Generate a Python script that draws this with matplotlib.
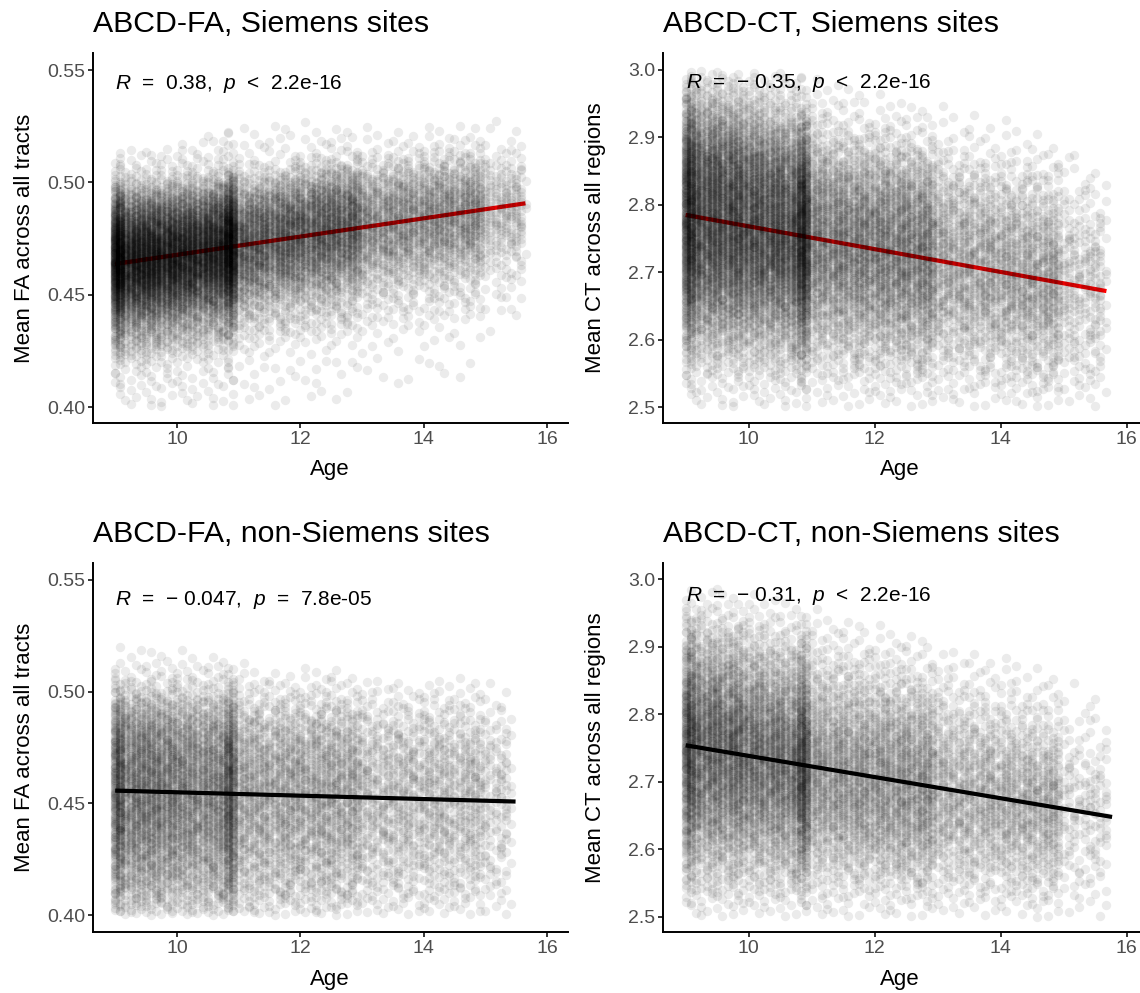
import numpy as np
import matplotlib
matplotlib.use('Agg')
import matplotlib.pyplot as plt

plt.rcParams['font.family'] = ['Liberation Sans', 'DejaVu Sans']
plt.rcParams['mathtext.fontset'] = 'custom'
plt.rcParams['mathtext.rm'] = 'Liberation Sans'
plt.rcParams['mathtext.it'] = 'Liberation Sans:italic'

# Les nuages de points sont reconstruits à partir de quantiles,
# par tranche d'âge d'un an (quantiles donnés au centre de chaque tranche)
age_bins = [9, 10, 11, 12, 13, 14, 15, 16]
quant_probs = [0, 0.02, 0.10, 0.25, 0.50, 0.75, 0.90, 0.98, 1.0]
# tranches plus denses (colonne de gauche à 9 ans, bande vers 11 ans)
extra_ranges = [(9.0, 9.17), (10.83, 11.0)]

# --- ABCD-FA, Siemens ---
fa_siem_counts = [2200, 2000, 1100, 1100, 650, 650, 220]
fa_siem_extra = [220, 220]
fa_siem_quant = [
    [0.400, 0.425, 0.442, 0.454, 0.465, 0.476, 0.486, 0.497, 0.515],
    [0.400, 0.428, 0.445, 0.457, 0.468, 0.479, 0.489, 0.500, 0.522],
    [0.400, 0.432, 0.450, 0.462, 0.474, 0.485, 0.494, 0.505, 0.530],
    [0.402, 0.435, 0.453, 0.466, 0.478, 0.489, 0.498, 0.508, 0.528],
    [0.410, 0.437, 0.456, 0.469, 0.481, 0.492, 0.501, 0.511, 0.525],
    [0.410, 0.440, 0.459, 0.472, 0.484, 0.495, 0.504, 0.514, 0.527],
    [0.440, 0.450, 0.465, 0.476, 0.487, 0.497, 0.505, 0.515, 0.535],
]
fa_siem_age_max = 15.68
fa_siem_fit_x = [9.0, 15.65]
fa_siem_fit_y = [0.4637, 0.4907]

# --- ABCD-CT, Siemens ---
ct_siem_counts = [2300, 2100, 1200, 1200, 700, 700, 240]
ct_siem_extra = [220, 220]
ct_siem_quant = [
    [2.50, 2.58, 2.65, 2.71, 2.78, 2.85, 2.90, 2.96, 3.00],
    [2.50, 2.57, 2.64, 2.70, 2.76, 2.83, 2.88, 2.94, 3.00],
    [2.50, 2.56, 2.62, 2.68, 2.74, 2.80, 2.85, 2.91, 2.99],
    [2.50, 2.55, 2.61, 2.67, 2.73, 2.79, 2.84, 2.89, 2.96],
    [2.50, 2.54, 2.60, 2.65, 2.71, 2.77, 2.82, 2.87, 2.95],
    [2.50, 2.53, 2.58, 2.64, 2.69, 2.75, 2.80, 2.86, 2.92],
    [2.50, 2.53, 2.57, 2.62, 2.68, 2.73, 2.78, 2.83, 2.87],
]
ct_siem_age_max = 15.70
ct_siem_fit_x = [9.0, 15.68]
ct_siem_fit_y = [2.785, 2.672]

# --- ABCD-FA, non-Siemens ---
fa_non_counts = [1350, 1150, 750, 750, 480, 480, 140]
fa_non_extra = [120, 160]
fa_non_quant = [
    [0.400, 0.404, 0.418, 0.435, 0.455, 0.474, 0.487, 0.499, 0.522],
    [0.400, 0.404, 0.417, 0.434, 0.454, 0.473, 0.487, 0.500, 0.520],
    [0.400, 0.404, 0.416, 0.433, 0.453, 0.471, 0.485, 0.498, 0.510],
    [0.400, 0.404, 0.416, 0.433, 0.453, 0.471, 0.485, 0.498, 0.513],
    [0.400, 0.405, 0.417, 0.433, 0.452, 0.470, 0.484, 0.497, 0.505],
    [0.400, 0.405, 0.417, 0.433, 0.452, 0.470, 0.484, 0.497, 0.508],
    [0.400, 0.405, 0.418, 0.433, 0.452, 0.468, 0.480, 0.495, 0.505],
]
fa_non_age_max = 15.45
fa_non_fit_x = [9.0, 15.49]
fa_non_fit_y = [0.4557, 0.4508]

# --- ABCD-CT, non-Siemens ---
ct_non_counts = [1600, 1400, 900, 900, 560, 560, 160]
ct_non_extra = [140, 160]
ct_non_quant = [
    [2.50, 2.55, 2.62, 2.68, 2.75, 2.81, 2.87, 2.93, 2.99],
    [2.50, 2.55, 2.61, 2.67, 2.73, 2.79, 2.85, 2.91, 2.98],
    [2.50, 2.54, 2.60, 2.65, 2.71, 2.77, 2.83, 2.89, 2.95],
    [2.50, 2.54, 2.59, 2.64, 2.70, 2.76, 2.81, 2.87, 2.93],
    [2.50, 2.53, 2.58, 2.63, 2.68, 2.74, 2.79, 2.85, 2.90],
    [2.50, 2.53, 2.57, 2.62, 2.67, 2.72, 2.77, 2.83, 2.88],
    [2.50, 2.52, 2.56, 2.61, 2.66, 2.70, 2.75, 2.80, 2.85],
]
ct_non_age_max = 15.75
ct_non_fit_x = [9.0, 15.77]
ct_non_fit_y = [2.754, 2.648]

titles = ["ABCD-FA, Siemens sites", "ABCD-CT, Siemens sites",
          "ABCD-FA, non-Siemens sites", "ABCD-CT, non-Siemens sites"]
stats = [r"$\it{R}$  =  0.38,  $\it{p}$  <  2.2e-16",
         r"$\it{R}$  =  − 0.35,  $\it{p}$  <  2.2e-16",
         r"$\it{R}$  =  − 0.047,  $\it{p}$  =  7.8e-05",
         r"$\it{R}$  =  − 0.31,  $\it{p}$  <  2.2e-16"]
fa_ticks = [0.40, 0.45, 0.50, 0.55]
ct_ticks = [2.5, 2.6, 2.7, 2.8, 2.9, 3.0]
age_ticks = [10, 12, 14, 16]

fine_probs = np.linspace(0, 1, 201)


def vdc(k, base):
    # suite de van der Corput (placement régulière, pas d'aléatoire)
    out = np.zeros(len(k))
    denom = 1.0
    k = k.copy()
    while np.any(k > 0):
        denom *= base
        out += (k % base) / denom
        k //= base
    return out


def smooth_row(row, width):
    # lisse la densité définie par les quantiles lus (évite les paliers),
    # puis la tronque aux min / max lus
    ygrid = np.linspace(row[0] - 4 * width, row[-1] + 4 * width, 800)
    cdf = np.interp(ygrid, row, quant_probs)
    dens = np.gradient(cdf, ygrid)
    step = ygrid[1] - ygrid[0]
    kx = np.arange(-4 * width, 4 * width + step, step)
    kern = np.exp(-0.5 * (kx / width) ** 2)
    dens = np.convolve(dens, kern / kern.sum(), mode='same')
    dens[(ygrid < row[0]) | (ygrid > row[-1])] = 0
    cdf = np.cumsum(dens)
    cdf = cdf / cdf[-1]
    keep = np.concatenate([[True], np.diff(cdf) > 0])
    out = np.interp(fine_probs, cdf[keep], ygrid[keep])
    return np.clip(out, row[0], row[-1])


def spread(n, lo, hi, Qf, offset):
    k = np.arange(1, n + 1) + offset
    u = vdc(k, 2)
    v = vdc(k, 3)
    x = np.floor((lo + u * (hi - lo)) * 12) / 12  # âges au mois près
    centers = np.array(age_bins[:-1]) + 0.5
    qx = np.array([np.interp(x, centers, Qf[:, j]) for j in range(Qf.shape[1])]).T
    pos = v * (len(fine_probs) - 1)
    idx = np.clip(np.floor(pos).astype(int), 0, len(fine_probs) - 2)
    t = pos - idx
    rows = np.arange(n)
    y = qx[rows, idx] + t * (qx[rows, idx + 1] - qx[rows, idx])
    return x, y


def build_cloud(counts, extra, quants, age_max):
    Q = np.array(quants)
    width = 0.12 * (Q[:, 6].mean() - Q[:, 2].mean())
    Qf = np.array([smooth_row(row, width) for row in Q])
    xs, ys = [], []
    for i, n in enumerate(counts):
        lo, hi = age_bins[i], min(age_bins[i + 1], age_max)
        x, y = spread(n, lo, hi, Qf, 37 * i)
        xs.append(x)
        ys.append(y)
    for j, ((lo, hi), n) in enumerate(zip(extra_ranges, extra)):
        x, y = spread(n, lo, hi, Qf, 500 + 53 * j)
        xs.append(x)
        ys.append(y)
    return np.concatenate(xs), np.concatenate(ys)


fig = plt.figure(figsize=(11.4, 9.93), dpi=100)
W, H = 1140, 993

# positions en pixels : gauche, droite, haut, bas
boxes = [(93, 568, 53, 423), (663, 1148, 53, 423),
         (93, 568, 563, 932), (663, 1148, 563, 932)]
panels = [
    (fa_siem_counts, fa_siem_extra, fa_siem_quant, fa_siem_age_max, fa_siem_fit_x, fa_siem_fit_y,
     'red', (0.3929, 0.5576), fa_ticks, "%.2f", "Mean FA across all tracts", 0.5440),
    (ct_siem_counts, ct_siem_extra, ct_siem_quant, ct_siem_age_max, ct_siem_fit_x, ct_siem_fit_y,
     'red', (2.4763, 3.0252), ct_ticks, "%.1f", "Mean CT across all regions", 2.980),
    (fa_non_counts, fa_non_extra, fa_non_quant, fa_non_age_max, fa_non_fit_x, fa_non_fit_y,
     'black', (0.3924, 0.5576), fa_ticks, "%.2f", "Mean FA across all tracts", 0.5410),
    (ct_non_counts, ct_non_extra, ct_non_quant, ct_non_age_max, ct_non_fit_x, ct_non_fit_y,
     'black', (2.4778, 3.0237), ct_ticks, "%.1f", "Mean CT across all regions", 2.975),
]

for (l, r, t, b), p, title, stat in zip(boxes, panels, titles, stats):
    counts, extra, quants, age_max, fit_x, fit_y, col, ylim, yticks, fmt, ylabel, stat_y = p
    ax = fig.add_axes([l / W, 1 - b / H, (r - l) / W, (b - t) / H])
    x, y = build_cloud(counts, extra, quants, age_max)
    ax.plot(fit_x, fit_y, color=col, lw=3, zorder=1, solid_capstyle='butt')
    ax.scatter(x, y, s=46, c='black', alpha=0.08, linewidths=0, zorder=2)
    ax.set_xlim(8.64, 16.34)
    ax.set_ylim(*ylim)
    ax.set_xticks(age_ticks)
    ax.set_yticks(yticks)
    ax.set_yticklabels([fmt % v for v in yticks])
    for s in ['top', 'right']:
        ax.spines[s].set_visible(False)
    for s in ['left', 'bottom']:
        ax.spines[s].set_linewidth(1.4)
    ax.tick_params(labelsize=14, labelcolor='#4D4D4D', length=3.5, width=1.1, pad=2)
    ax.text(9.0, stat_y, stat, fontsize=15, va='center', ha='left')
    fig.text(l / W, 1 - (t - 29) / H, title, fontsize=21.8, ha='left', va='center')
    fig.text((l - 68) / W, 1 - (t + b) / 2 / H, ylabel, fontsize=16, rotation=90,
             ha='center', va='center')
    fig.text((l + 237) / W, 1 - (b + 47) / H, "Age", fontsize=16, ha='center', va='center')

fig.savefig("out.png", dpi=100)
